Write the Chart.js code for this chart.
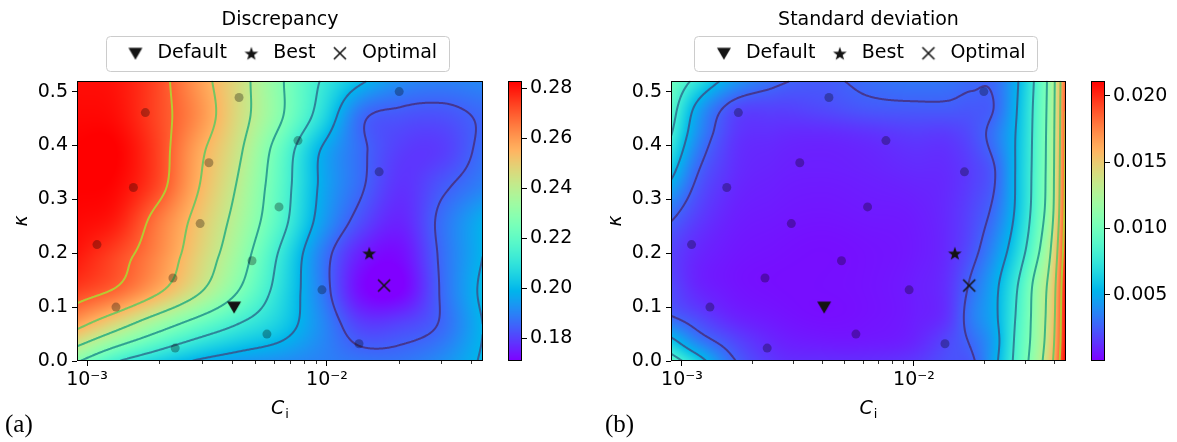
<!DOCTYPE html>
<html><head><meta charset="utf-8">
<script src="https://cdn.jsdelivr.net/npm/chart.js@4.4.1/dist/chart.umd.min.js"></script>
<style>
html,body{margin:0;padding:0;background:#fff;}
#wrap{position:relative;width:1177px;height:442px;overflow:hidden;background:#fff;}
canvas{position:absolute;top:0;}
.lab{position:absolute;font-family:'Liberation Serif','DejaVu Serif',serif;font-size:25px;line-height:1;color:#000;}
</style></head><body>
<div id="wrap">
<canvas id="ca" style="left:0px;width:560px;height:442px" width="560" height="442"></canvas>
<canvas id="cacb" style="left:490px;width:110px;height:442px" width="110" height="442"></canvas>
<canvas id="cb" style="left:600px;width:537px;height:442px" width="537" height="442"></canvas>
<canvas id="cbcb" style="left:1073px;width:104px;height:442px" width="104" height="442"></canvas>
<div class="lab" style="left:5px;top:411px">(a)</div>
<div class="lab" style="left:605px;top:411px">(b)</div>
</div>
<script>
const FONT = "'DejaVu Sans', 'Liberation Sans', sans-serif";

// ---------------- DATA ----------------
const kappaTicks = [0, 0.1, 0.2, 0.3, 0.4, 0.5];
const ciMajorTicks = [0.001, 0.01];
const ciMajorLabels = ['10\u207B\u00B3', '10\u207B\u00B2'];
const ciMinorTicks = [0.002, 0.003, 0.004, 0.005, 0.006, 0.007, 0.008, 0.009, 0.02, 0.03, 0.04];

const sampleCi    = [0.00110, 0.00132, 0.00156, 0.00175, 0.00228, 0.00233, 0.00296, 0.00322, 0.00430, 0.00487, 0.00562, 0.00631, 0.00757, 0.00953, 0.0165, 0.0136, 0.0200];
const sampleKappa = [0.216, 0.100, 0.322, 0.461, 0.154, 0.024, 0.255, 0.368, 0.489, 0.186, 0.050, 0.286, 0.409, 0.132, 0.351, 0.032, 0.500];

const defaultPoint = [0.0041, 0.100];
const bestPoint    = [0.0150, 0.200];
const optimalPoint = [0.0173, 0.140];

// Discrepancy field (rows: kappa, columns: C_i)
const discCi    = [0.000891, 0.001318, 0.00195, 0.00288, 0.00427, 0.00631, 0.00933, 0.0138, 0.0204, 0.0302, 0.0447];
const discKappa = [0, 0.065, 0.13, 0.195, 0.26, 0.325, 0.39, 0.455, 0.52];
const discValues = [
  [0.229, 0.214, 0.205, 0.198, 0.194, 0.192, 0.190, 0.188, 0.188, 0.192, 0.200],
  [0.258, 0.245, 0.232, 0.221, 0.212, 0.204, 0.192, 0.1805, 0.181, 0.186, 0.199],
  [0.274, 0.268, 0.257, 0.243, 0.227, 0.209, 0.190, 0.1725, 0.171, 0.186, 0.201],
  [0.280, 0.273, 0.263, 0.249, 0.233, 0.212, 0.190, 0.175, 0.1725, 0.1865, 0.199],
  [0.282, 0.279, 0.266, 0.252, 0.237, 0.218, 0.196, 0.182, 0.176, 0.187, 0.198],
  [0.283, 0.282, 0.273, 0.256, 0.240, 0.220, 0.198, 0.186, 0.178, 0.1835, 0.190],
  [0.283, 0.283, 0.274, 0.258, 0.243, 0.222, 0.199, 0.1865, 0.1795, 0.1795, 0.187],
  [0.282, 0.281, 0.273, 0.262, 0.246, 0.229, 0.209, 0.187, 0.183, 0.1825, 0.186],
  [0.281, 0.280, 0.273, 0.260, 0.246, 0.229, 0.213, 0.2005, 0.192, 0.190, 0.191]
];
const discLevels  = [0.1849, 0.1989, 0.2130, 0.2270, 0.2411, 0.2551, 0.2692];
const discRange   = [0.1709, 0.2829];
const discCbTicks = [0.18, 0.20, 0.22, 0.24, 0.26, 0.28];

// Standard deviation field
const stdCi    = [0.000891, 0.001122, 0.001585, 0.002512, 0.003981, 0.00631, 0.0100, 0.01413, 0.01778, 0.02239, 0.02818, 0.03388, 0.03890, 0.04519];
const stdKappa = [0, 0.035, 0.08, 0.14, 0.21, 0.28, 0.35, 0.42, 0.47, 0.52];
const stdValues = [
  [0.0093, 0.0068, 0.0032, 0.0014, 0.0012, 0.0012, 0.0015, 0.0022, 0.0025, 0.0050, 0.0090, 0.0121, 0.0152, 0.0211],
  [0.0062, 0.0040, 0.0022, 0.0010, 0.0007, 0.0007, 0.0010, 0.0020, 0.0029, 0.0048, 0.0088, 0.0118, 0.0148, 0.0208],
  [0.0029, 0.0021, 0.0011, 0.0006, 0.0004, 0.0005, 0.0008, 0.0015, 0.0034, 0.0051, 0.0085, 0.0117, 0.0145, 0.0207],
  [0.0020, 0.0011, 0.0006, 0.0004, 0.0004, 0.0005, 0.0008, 0.0014, 0.0030, 0.0050, 0.0081, 0.0115, 0.0142, 0.0205],
  [0.0019, 0.0012, 0.0007, 0.0005, 0.0004, 0.0005, 0.0007, 0.0012, 0.0022, 0.0040, 0.0068, 0.0100, 0.0132, 0.0198],
  [0.0033, 0.0020, 0.0010, 0.0007, 0.0006, 0.0007, 0.0008, 0.0012, 0.0019, 0.0031, 0.0060, 0.0092, 0.0122, 0.0193],
  [0.0060, 0.0031, 0.0014, 0.0009, 0.0008, 0.0009, 0.0011, 0.0012, 0.0017, 0.0027, 0.0059, 0.0090, 0.0120, 0.0190],
  [0.0082, 0.0045, 0.0018, 0.0012, 0.0011, 0.0013, 0.0016, 0.0016, 0.0021, 0.0033, 0.0058, 0.0089, 0.0119, 0.0188],
  [0.0092, 0.0054, 0.0024, 0.0018, 0.0020, 0.0024, 0.0025, 0.0025, 0.0024, 0.0028, 0.0056, 0.0088, 0.0118, 0.0187],
  [0.0100, 0.0077, 0.0048, 0.0030, 0.0025, 0.0030, 0.0033, 0.0032, 0.0029, 0.0030, 0.0054, 0.0086, 0.0117, 0.0185]
];
const stdLevels  = [0.0027, 0.0054, 0.0080, 0.0106, 0.0132, 0.0159, 0.0185];
const stdRange   = [0.00002, 0.0211];
const stdCbTicks = [0.005, 0.010, 0.015, 0.020];

const levelColors = ['#472f7d', '#3b528b', '#2c728e', '#21918c', '#27ad81', '#5ec962', '#aadc32'];

// ---------------- HELPERS ----------------
function rainbow(t) {
  t = Math.max(0, Math.min(1, t));
  const r = Math.min(1, Math.abs(2 * t - 0.5));
  const g = Math.sin(Math.PI * t);
  const b = Math.max(0, Math.cos(Math.PI * t / 2));
  return [Math.round(255 * r), Math.round(255 * g), Math.round(255 * b)];
}
function slope(xs, ys, i) {
  const n = xs.length;
  if (i === 0) return (ys[1] - ys[0]) / (xs[1] - xs[0]);
  if (i === n - 1) return (ys[n - 1] - ys[n - 2]) / (xs[n - 1] - xs[n - 2]);
  const h0 = xs[i] - xs[i - 1], h1 = xs[i + 1] - xs[i];
  const d0 = (ys[i] - ys[i - 1]) / h0, d1 = (ys[i + 1] - ys[i]) / h1;
  return (h1 * d0 + h0 * d1) / (h0 + h1);
}
function interp1(xs, ys, x) {
  const n = xs.length;
  if (x <= xs[0]) return ys[0];
  if (x >= xs[n - 1]) return ys[n - 1];
  let i = 0;
  while (x > xs[i + 1]) i++;
  const h = xs[i + 1] - xs[i], t = (x - xs[i]) / h;
  const m0 = slope(xs, ys, i), m1 = slope(xs, ys, i + 1);
  const t2 = t * t, t3 = t2 * t;
  return (2 * t3 - 3 * t2 + 1) * ys[i] + (t3 - 2 * t2 + t) * h * m0 + (-2 * t3 + 3 * t2) * ys[i + 1] + (t3 - t2) * h * m1;
}
function marching(F, W, H, lv, seg) {
  for (let j = 0; j < H - 1; j++) {
    for (let i = 0; i < W - 1; i++) {
      const a = F[j * W + i], b = F[j * W + i + 1], c = F[(j + 1) * W + i + 1], d = F[(j + 1) * W + i];
      const idx = (a > lv ? 8 : 0) | (b > lv ? 4 : 0) | (c > lv ? 2 : 0) | (d > lv ? 1 : 0);
      if (idx === 0 || idx === 15) continue;
      const T = () => [i + (lv - a) / (b - a), j];
      const R = () => [i + 1, j + (lv - b) / (c - b)];
      const B = () => [i + (lv - d) / (c - d), j + 1];
      const L = () => [i, j + (lv - a) / (d - a)];
      switch (idx) {
        case 1: case 14: seg(L(), B()); break;
        case 2: case 13: seg(B(), R()); break;
        case 3: case 12: seg(L(), R()); break;
        case 4: case 11: seg(T(), R()); break;
        case 5: seg(T(), R()); seg(L(), B()); break;
        case 10: seg(L(), T()); seg(B(), R()); break;
        case 6: case 9: seg(T(), B()); break;
        case 7: case 8: seg(L(), T()); break;
      }
    }
  }
}
function hexA(hex, al) {
  const n = parseInt(hex.slice(1), 16);
  return `rgba(${(n >> 16) & 255},${(n >> 8) & 255},${n & 255},${al})`;
}
function mk(w, h, draw) {
  const c = document.createElement('canvas'); c.width = w; c.height = h;
  draw(c.getContext('2d')); return c;
}
const MK = '#141414';
const triMarker = mk(16, 14, g => { g.fillStyle = MK; g.beginPath(); g.moveTo(1, 1.5); g.lineTo(15, 1.5); g.lineTo(8, 13.5); g.closePath(); g.fill(); });
const starMarker = mk(16, 16, g => {
  g.fillStyle = MK; g.beginPath();
  for (let k = 0; k < 10; k++) {
    const r = k % 2 ? 2.9 : 7.2, ang = -Math.PI / 2 + k * Math.PI / 5;
    const px = 8 + r * Math.cos(ang), py = 8.8 + r * Math.sin(ang);
    if (k) g.lineTo(px, py); else g.moveTo(px, py);
  }
  g.closePath(); g.fill();
});
const xMarker = mk(16, 16, g => { g.strokeStyle = MK; g.lineWidth = 1.6; g.beginPath(); g.moveTo(2, 2); g.lineTo(14, 14); g.moveTo(14, 2); g.lineTo(2, 14); g.stroke(); });

function makeMain(id, P) {
  const grid = P.grid;
  const plug = {
    id: 'heat' + id,
    beforeDatasetsDraw(chart) {
      const { ctx, chartArea: a, scales } = chart;
      const x0 = Math.round(a.left), y0 = Math.round(a.top);
      const W = Math.round(a.right) - x0, H = Math.round(a.bottom) - y0;
      const gu = grid.ci.map(v => Math.log10(v));
      const F = new Float32Array(W * H);
      const col = new Array(grid.kappa.length);
      for (let i = 0; i < W; i++) {
        const u = Math.log10(scales.x.getValueForPixel(x0 + i + 0.5));
        for (let r = 0; r < grid.kappa.length; r++) col[r] = interp1(gu, grid.values[r], u);
        for (let j = 0; j < H; j++) {
          const k = scales.y.getValueForPixel(y0 + j + 0.5);
          F[j * W + i] = interp1(grid.kappa, col, k);
        }
      }
      const off = document.createElement('canvas'); off.width = W; off.height = H;
      const octx = off.getContext('2d');
      const img = octx.createImageData(W, H);
      const [v0, v1] = grid.range;
      for (let p = 0; p < W * H; p++) {
        const c = rainbow((F[p] - v0) / (v1 - v0));
        img.data[4 * p] = c[0]; img.data[4 * p + 1] = c[1]; img.data[4 * p + 2] = c[2]; img.data[4 * p + 3] = 255;
      }
      octx.putImageData(img, 0, 0);
      ctx.save();
      ctx.beginPath(); ctx.rect(a.left, a.top, a.right - a.left, a.bottom - a.top); ctx.clip();
      ctx.drawImage(off, x0, y0);
      ctx.lineWidth = 2; ctx.lineCap = 'round'; ctx.lineJoin = 'round';
      grid.levels.forEach((lv, li) => {
        ctx.strokeStyle = hexA(levelColors[li], 0.85);
        ctx.beginPath();
        marching(F, W, H, lv, (p, q) => { ctx.moveTo(x0 + p[0] + 0.5, y0 + p[1] + 0.5); ctx.lineTo(x0 + q[0] + 0.5, y0 + q[1] + 0.5); });
        ctx.stroke();
      });
      ctx.restore();
    },
    afterDraw(chart) {
      const { ctx, chartArea: a, scales: { x } } = chart;
      ctx.save();
      ctx.strokeStyle = '#000'; ctx.lineWidth = 1;
      const l = Math.round(a.left) + 0.5, t = Math.round(a.top) + 0.5, r = Math.round(a.right) - 0.5, b = Math.round(a.bottom) - 0.5;
      ctx.strokeRect(l, t, r - l, b - t);
      ctx.lineWidth = 0.8;
      ciMinorTicks.forEach(v => {
        const px = Math.round(x.getPixelForValue(v)) + 0.5;
        if (px < a.left || px > a.right) return;
        ctx.beginPath(); ctx.moveTo(px, a.bottom); ctx.lineTo(px, a.bottom + 3); ctx.stroke();
      });
      // x axis title C_i
      ctx.fillStyle = '#000'; ctx.textBaseline = 'alphabetic'; ctx.textAlign = 'left';
      ctx.font = `italic 19px ${FONT}`; const wC = ctx.measureText('C').width;
      ctx.font = `13px ${FONT}`; const wi = ctx.measureText('i').width;
      const cx = (a.left + a.right) / 2, sx = cx - (wC + wi + 1) / 2;
      ctx.font = `italic 19px ${FONT}`; ctx.fillText('C', sx, 414);
      ctx.font = `13px ${FONT}`; ctx.fillText('i', sx + wC + 1, 418);
      // legend frame
      const hb = chart.legend.legendHitBoxes;
      if (hb && hb.length) {
        const L = Math.min(...hb.map(h => h.left)) - 17;
        const R = Math.max(...hb.map(h => h.left + h.width)) + 12;
        const cy = hb[0].top + hb[0].height / 2;
        ctx.strokeStyle = '#cccccc'; ctx.lineWidth = 1;
        ctx.beginPath(); ctx.roundRect(Math.round(L) + 0.5, Math.round(cy - 17.5) + 0.5, Math.round(R - L), 35, 4); ctx.stroke();
      }
      ctx.restore();
    }
  };
  const pts = (xs, ys) => xs.map((v, i) => ({ x: v, y: ys[i] }));
  return new Chart(document.getElementById(id), {
    type: 'scatter',
    data: {
      datasets: [
        { label: 'Default', data: [{ x: defaultPoint[0], y: defaultPoint[1] }], pointStyle: triMarker },
        { label: 'Best', data: [{ x: bestPoint[0], y: bestPoint[1] }], pointStyle: starMarker },
        { label: 'Optimal', data: [{ x: optimalPoint[0], y: optimalPoint[1] }], pointStyle: xMarker },
        { label: 'samples', data: pts(sampleCi, sampleKappa), pointRadius: 4.5, pointHoverRadius: 4.5, backgroundColor: 'rgba(0,0,0,0.3)', borderWidth: 0 }
      ]
    },
    options: {
      responsive: false, animation: false, events: [],
      layout: { padding: { left: 0, right: 0, top: 0, bottom: 21 } },
      plugins: {
        title: { display: true, text: P.title, color: '#000', font: { family: FONT, size: 19, weight: 'normal' }, padding: { top: 9, bottom: 0 } },
        legend: {
          display: true, position: 'top',
          labels: { usePointStyle: true, pointStyleWidth: 25, padding: 12, color: '#000', font: { family: FONT, size: 19 }, filter: it => it.text !== 'samples' }
        },
        tooltip: { enabled: false }
      },
      scales: {
        x: {
          type: 'logarithmic', position: 'bottom', min: P.xmin, max: P.xmax,
          afterBuildTicks: s => { s.ticks = ciMajorTicks.concat(ciMinorTicks).sort((p, q) => p - q).map(v => ({ value: v })); },
          afterFit: s => { s.height = 60; },
          ticks: {
            autoSkip: false, maxRotation: 0, minRotation: 0, padding: 3, color: '#000', font: { family: FONT, size: 19 },
            callback: v => { const i = ciMajorTicks.indexOf(v); return i >= 0 ? ciMajorLabels[i] : ''; }
          },
          grid: { display: true, drawOnChartArea: false, drawTicks: true, tickLength: 5, tickWidth: 1,
            tickColor: c => (c.tick && ciMajorTicks.indexOf(c.tick.value) >= 0) ? '#000' : 'rgba(0,0,0,0)' },
          border: { display: false }
        },
        y: {
          type: 'linear', position: 'left', min: 0, max: 0.52,
          afterBuildTicks: s => { s.ticks = kappaTicks.map(v => ({ value: v })); },
          afterFit: s => { s.width = P.yWidth; },
          ticks: { padding: 4, color: '#000', font: { family: FONT, size: 19 }, callback: v => Number(v).toFixed(1) },
          grid: { display: true, drawOnChartArea: false, drawTicks: true, tickLength: 5, tickWidth: 1, tickColor: '#000' },
          border: { display: false },
          title: { display: true, text: '\u03BA', color: '#000', font: { family: FONT, size: 19, style: 'italic' }, padding: { top: P.kPad, bottom: 0 } }
        },
        xTop: { type: 'linear', position: 'top', display: true, ticks: { display: false }, grid: { display: false }, border: { display: false }, afterFit: s => { s.height = 8; } },
        yRight: { type: 'linear', position: 'right', display: true, ticks: { display: false }, grid: { display: false }, border: { display: false }, afterFit: s => { s.width = P.yWidth; } }
      }
    },
    plugins: [plug]
  });
}

function makeBar(id, range, ticks, digits, padLeft, yw) {
  const plug = {
    id: 'cb' + id,
    beforeDatasetsDraw(chart) {
      const { ctx, chartArea: a, scales: { y } } = chart;
      for (let py = Math.floor(a.top); py < Math.ceil(a.bottom); py++) {
        const v = y.getValueForPixel(py + 0.5);
        const c = rainbow((v - range[0]) / (range[1] - range[0]));
        ctx.fillStyle = `rgb(${c[0]},${c[1]},${c[2]})`;
        ctx.fillRect(a.left, py, a.right - a.left, 1);
      }
    },
    afterDraw(chart) {
      const { ctx, chartArea: a } = chart;
      ctx.save(); ctx.strokeStyle = '#000'; ctx.lineWidth = 1;
      const l = Math.round(a.left) + 0.5, t = Math.round(a.top) + 0.5, r = Math.round(a.right) - 0.5, b = Math.round(a.bottom) - 0.5;
      ctx.strokeRect(l, t, r - l, b - t); ctx.restore();
    }
  };
  return new Chart(document.getElementById(id), {
    type: 'scatter', data: { datasets: [] },
    options: {
      responsive: false, animation: false, events: [],
      layout: { padding: { left: padLeft, right: 0, top: 81, bottom: 81 } },
      plugins: { legend: { display: false }, title: { display: false }, tooltip: { enabled: false } },
      scales: {
        x: { display: false, min: 0, max: 1 },
        y: {
          position: 'right', min: range[0], max: range[1],
          afterBuildTicks: s => { s.ticks = ticks.map(v => ({ value: v })); },
          afterFit: s => { s.width = yw; },
          ticks: { padding: 3, color: '#000', font: { family: FONT, size: 19 }, callback: v => Number(v).toFixed(digits) },
          grid: { display: true, drawOnChartArea: false, drawTicks: true, tickLength: 5, tickWidth: 1, tickColor: '#000' },
          border: { display: false }
        }
      }
    },
    plugins: [plug]
  });
}

makeMain('ca', { title: 'Discrepancy', xmin: 0.000908, xmax: 0.0447, yWidth: 77, kPad: 11,
  grid: { ci: discCi, kappa: discKappa, values: discValues, levels: discLevels, range: discRange } });
makeMain('cb', { title: 'Standard deviation', xmin: 0.000897, xmax: 0.0452, yWidth: 71, kPad: 5,
  grid: { ci: stdCi, kappa: stdKappa, values: stdValues, levels: stdLevels, range: stdRange } });
makeBar('cacb', discRange, discCbTicks, 2, 18, 78);
makeBar('cbcb', stdRange, stdCbTicks, 3, 18, 72);
</script>
</body></html>
